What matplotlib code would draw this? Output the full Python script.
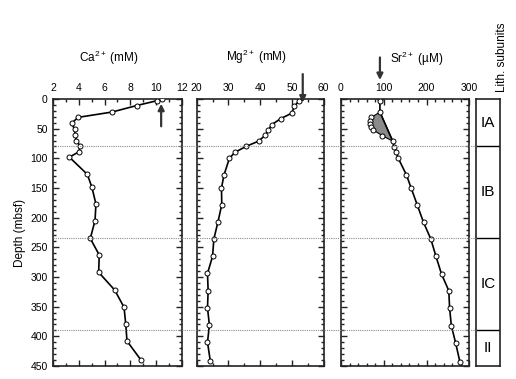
import matplotlib
matplotlib.use("Agg")
import matplotlib.pyplot as plt
from matplotlib.lines import Line2D
from matplotlib.patches import Polygon
import matplotlib.transforms as mtransforms
from matplotlib.ticker import MultipleLocator

plt.rcParams['font.family'] = ['Liberation Sans', 'DejaVu Sans']
plt.rcParams['mathtext.fontset'] = 'custom'
plt.rcParams['mathtext.rm'] = 'Liberation Sans'
plt.rcParams['mathtext.it'] = 'Liberation Sans:italic'
plt.rcParams['mathtext.bf'] = 'Liberation Sans:bold'

# ---- data ----
ca_depth = [0, 3, 11, 22, 31, 41, 51, 60, 70, 79, 89, 98, 127, 149, 177, 205, 235, 263, 292, 322, 351, 379, 408, 440]
ca_val = [10.44, 10.05, 8.5, 6.57, 3.92, 3.43, 3.66, 3.71, 3.79, 4.08, 4.0, 3.25, 4.65, 5.01, 5.32, 5.25, 4.88, 5.58, 5.53, 6.78, 7.51, 7.64, 7.74, 8.83]

mg_depth = [4, 12, 24, 33, 43, 52, 61, 71, 80, 90, 100, 128, 150, 178, 207, 236, 265, 294, 323, 352, 381, 410, 442]
mg_val = [52.1, 50.8, 49.9, 46.5, 43.7, 42.6, 41.6, 39.5, 35.5, 32.0, 30.3, 28.6, 27.8, 27.9, 26.7, 25.4, 25.0, 23.4, 23.6, 23.4, 24.0, 23.4, 24.3]

sr_depth = [0, 4, 22, 31, 37, 42, 48, 52, 62, 71, 81, 90, 100, 128, 150, 178, 208, 236, 265, 295, 323, 353, 382, 411, 443]
sr_val = [92, 91, 91, 71, 68, 68, 71, 75, 97, 121, 124, 129, 134, 153, 164, 178, 193, 210, 222, 235, 252, 254, 258, 268, 278]
sr_anom = (2, 9)  # index range (inclusive) of shaded anomaly

ca_arrow = 10.4
mg_arrow = 53.4
sr_arrow = 91

unit_bounds = [0, 80, 235, 390, 450]
unit_names = ["IA", "IB", "IC", "II"]

titles = ["Ca$^{2+}$ (mM)", "Mg$^{2+}$ (mM)", "Sr$^{2+}$ (\u00b5M)"]

# ---- figure ----
W, H = 516, 379
fig = plt.figure(figsize=(W / 100, H / 100), dpi=100)

def fx(px):
    return px / W

def fy(py):
    return 1 - py / H

top, bot = 99, 366
axh = (bot - top) / H
ax_ca = fig.add_axes([fx(53.3), fy(bot), fx(128.4), axh])
ax_mg = fig.add_axes([fx(196.7), fy(bot), fx(127.0), axh])
ax_sr = fig.add_axes([fx(341.0), fy(bot), fx(128.3), axh])
ax_li = fig.add_axes([fx(476.0), fy(bot), fx(24.0), axh])

spine_c = '#222222'
fs_tick = 7.5

def style(ax, xlim, xmaj, xmin, ylabels):
    ax.set_xlim(*xlim)
    ax.set_ylim(450, 0)
    ax.xaxis.set_major_locator(MultipleLocator(xmaj))
    ax.xaxis.set_minor_locator(MultipleLocator(xmin))
    ax.yaxis.set_major_locator(MultipleLocator(50))
    ax.yaxis.set_minor_locator(MultipleLocator(10))
    ax.xaxis.tick_top()
    ax.tick_params(which='both', direction='in', top=True, bottom=True, left=True, right=True,
                   color=spine_c, width=1.0, labelsize=fs_tick)
    ax.tick_params(which='major', length=4)
    ax.tick_params(which='minor', length=2)
    ax.tick_params(axis='x', labeltop=True, labelbottom=False, pad=4)
    ax.tick_params(axis='y', labelleft=ylabels, labelright=False, pad=4)
    for s in ax.spines.values():
        s.set_linewidth(1.2)
        s.set_color(spine_c)

style(ax_ca, (2, 12), 2, 1, True)
style(ax_mg, (20, 60), 10, 5, False)
style(ax_sr, (0, 300), 100, 20, False)

mk = dict(marker='o', markersize=3.6, markerfacecolor='white', markeredgecolor='black',
          markeredgewidth=0.7, color='black', linewidth=1.2, zorder=5)

ax_ca.plot(ca_val, ca_depth, **mk)
ax_mg.plot(mg_val, mg_depth, **mk)

# Sr: shaded anomaly polygon
i0, i1 = sr_anom
poly_pts = list(zip(sr_val[i0:i1 + 1], sr_depth[i0:i1 + 1]))
ax_sr.add_patch(Polygon(poly_pts, closed=True, facecolor='#8a8a8a', edgecolor='black',
                        linewidth=0.8, zorder=3))
main_x = sr_val[:i0 + 1] + sr_val[i1:]
main_y = sr_depth[:i0 + 1] + sr_depth[i1:]
ax_sr.plot(main_x, main_y, color='black', linewidth=1.2, zorder=4)
ax_sr.plot(sr_val, sr_depth, linestyle='none', marker='o', markersize=3.6,
           markerfacecolor='white', markeredgecolor='black', markeredgewidth=0.7, zorder=6)

ax_ca.set_ylabel("Depth (mbsf)", fontsize=8.5, labelpad=3)

# arrows
arr = dict(arrowstyle='-|>', color='#333333', lw=1.6, mutation_scale=9, shrinkA=0, shrinkB=0)
ax_ca.annotate('', xy=(ca_arrow, 8), xytext=(ca_arrow, 46), arrowprops=arr, annotation_clip=False)
ax_mg.annotate('', xy=(mg_arrow, 6), xytext=(mg_arrow, -42), arrowprops=arr, annotation_clip=False)
ax_sr.annotate('', xy=(sr_arrow, -32), xytext=(sr_arrow, -70), arrowprops=arr, annotation_clip=False)

# titles
fig.text(fx(108.5), fy(58), titles[0], ha='center', va='center', fontsize=8.5)
fig.text(fx(256.7), fy(57), titles[1], ha='center', va='center', fontsize=8.5)
fig.text(fx(417), fy(59), titles[2], ha='center', va='center', fontsize=8.5)

# lith column
ax_li.set_xlim(0, 1)
ax_li.set_ylim(450, 0)
ax_li.set_xticks([])
ax_li.set_yticks([])
for s in ax_li.spines.values():
    s.set_linewidth(1.2)
    s.set_color(spine_c)
for b in unit_bounds[1:-1]:
    ax_li.axhline(b, color='black', linewidth=1.0)
for name, a, b in zip(unit_names, unit_bounds[:-1], unit_bounds[1:]):
    ax_li.text(0.5, (a + b) / 2, name, ha='center', va='center', fontsize=11)
fig.text(fx(502), fy(92), "Lith. subunits", rotation=90, ha='center', va='bottom', fontsize=8.5)

# dotted unit boundaries across panels
tr = mtransforms.blended_transform_factory(fig.transFigure, ax_ca.transData)
for b in unit_bounds[1:-1]:
    fig.lines.append(Line2D([fx(53.3), fx(476)], [b, b], transform=tr, color='#8c8c8c',
                            linewidth=0.8, linestyle=(0, (1, 1)), zorder=0.5))

fig.savefig("out.png", dpi=100)
